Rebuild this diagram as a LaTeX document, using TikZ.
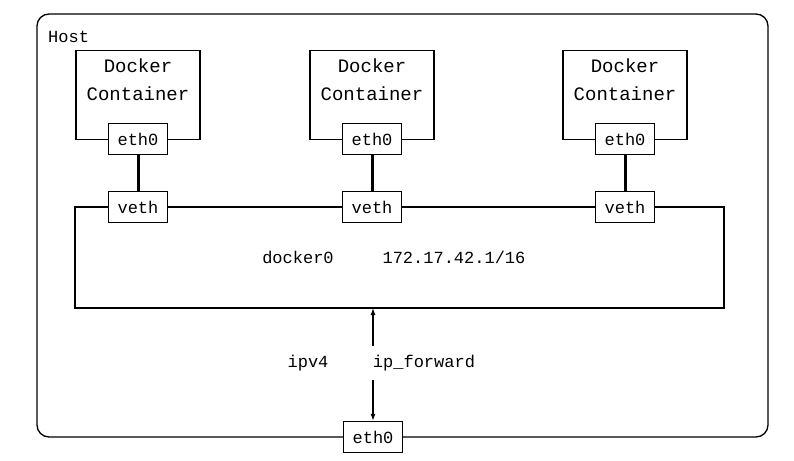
\documentclass[tikz,border=0pt]{standalone}
\usepackage{fontspec}
\setmainfont{Liberation Mono}
\usetikzlibrary{arrows.meta}
\begin{document}
\begin{tikzpicture}[x=1pt,y=-1pt,
  lbl/.style={font=\fontsize{17}{19}\selectfont,inner sep=0pt},
  port/.style={draw,line width=1.4pt,fill=white,minimum width=59pt,minimum height=31pt,inner sep=0pt,font=\fontsize{17}{19}\selectfont},
  cont/.style={draw,line width=1.2pt,minimum width=124pt,minimum height=89pt,align=center,font=\fontsize{19}{28}\selectfont},
  ln/.style={line width=1.2pt}]
\useasboundingbox (0,0) rectangle (794,460);
\draw[line width=1.3pt,rounded corners=12pt] (37,14) rectangle (768,437);
\node[lbl,anchor=west] (host) at (48,37) {Host};
\draw[ln] (75,207) rectangle (724,308);
\node[lbl] (d0) at (298,257) {docker0};
\node[lbl] (ip) at (454,257) {172.17.42.1/16};
\foreach \i/\x in {1/138,2/372,3/625}{
  \node[cont] (c\i) at (\x,95) {};
  \node[lbl,font=\fontsize{19}{28}\selectfont,align=center] (t\i) at (\x,80) {Docker\\Container};
  \node[port] (e\i) at (\x,139) {eth0};
  \node[port] (v\i) at (\x,207) {veth};
  \draw[line width=3pt] (e\i) -- (v\i);
}
\node[port] (he) at (373,437) {eth0};
\node[lbl] (ipv4) at (308,363) {ipv4};
\node[lbl] (ipf) at (424,363) {ip\_forward};
\coordinate (top) at (373,308);
\coordinate (m1) at (373,346);
\coordinate (m2) at (373,380);
\draw[line width=1.2pt,-{Latex[length=7pt,width=5pt]}] (m1) -- (top);
\draw[line width=1.2pt,-{Latex[length=7pt,width=5pt]}] (m2) -- (he);
\end{tikzpicture}
\end{document}
